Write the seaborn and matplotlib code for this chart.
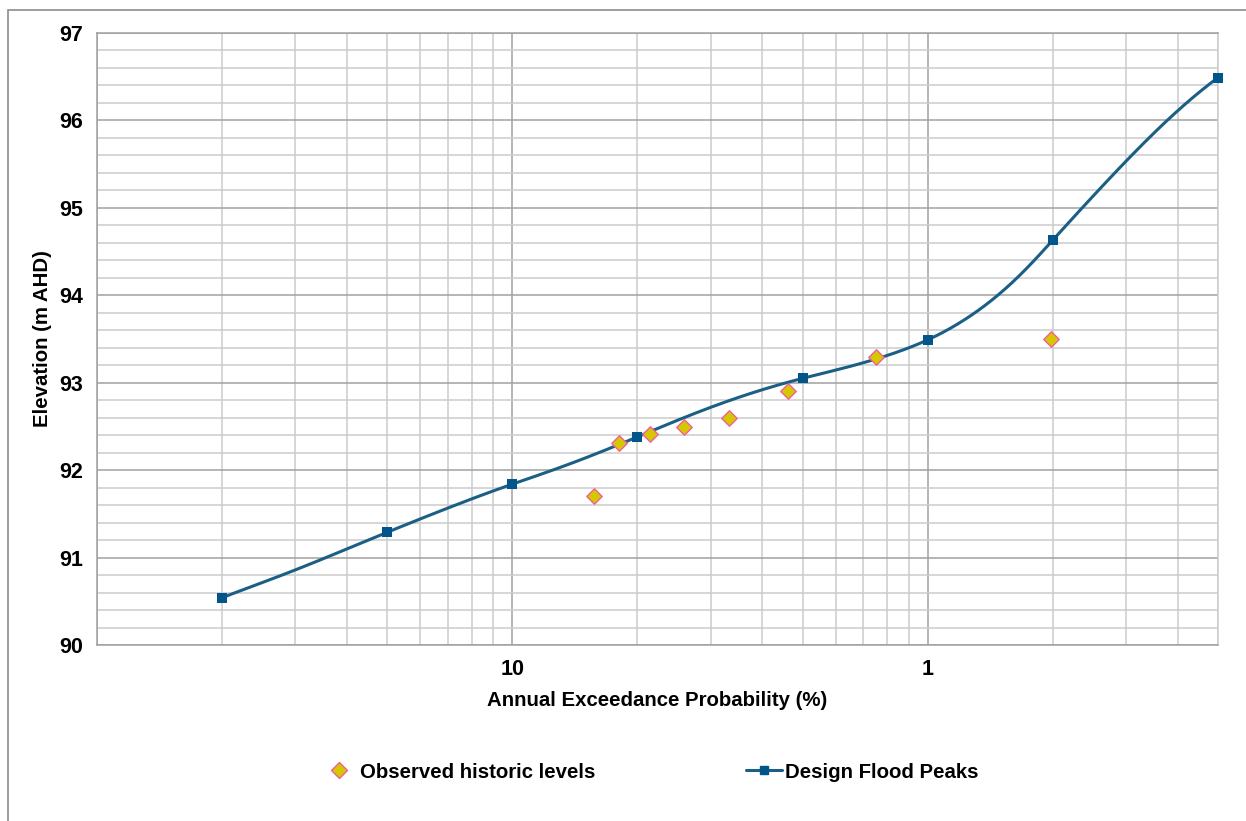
import numpy as np
import pandas as pd
import matplotlib
matplotlib.use('Agg')
import matplotlib.pyplot as plt
import seaborn as sns
from matplotlib.lines import Line2D
from matplotlib.patches import Rectangle
from matplotlib.ticker import FixedLocator, NullFormatter

# design flood peaks (AEP %, elevation m AHD)
design_aep = [50, 20, 10, 5, 2, 1, 0.5, 0.2]
design_level = [90.54, 91.29, 91.84, 92.38, 93.05, 93.49, 94.63, 96.49]

# observed historic levels
obs_aep = [6.35, 5.53, 4.66, 3.86, 3.01, 2.17, 1.33, 0.506]
obs_level = [91.70, 92.31, 92.41, 92.49, 92.60, 92.90, 93.29, 93.50]


def natural_spline(t, y, tt):
    k = len(t)
    h = np.diff(t)
    A = np.zeros((k, k))
    b = np.zeros(k)
    A[0, 0] = A[-1, -1] = 1
    for i in range(1, k - 1):
        A[i, i - 1] = h[i - 1]
        A[i, i] = 2 * (h[i - 1] + h[i])
        A[i, i + 1] = h[i]
        b[i] = 6 * ((y[i + 1] - y[i]) / h[i] - (y[i] - y[i - 1]) / h[i - 1])
    m = np.linalg.solve(A, b)
    idx = np.clip(np.searchsorted(t, tt) - 1, 0, k - 2)
    t0, t1 = t[idx], t[idx + 1]
    hh = t1 - t0
    return (m[idx] * (t1 - tt) ** 3 / (6 * hh) + m[idx + 1] * (tt - t0) ** 3 / (6 * hh)
            + (y[idx] / hh - m[idx] * hh / 6) * (t1 - tt)
            + (y[idx + 1] / hh - m[idx + 1] * hh / 6) * (tt - t0))


def smooth_curve(xs, ys, n=6000):
    # spreadsheet-style smoothing: parametric cubic spline on the raw (unscaled) values
    x = np.asarray(xs, float)
    y = np.asarray(ys, float)
    t = np.concatenate([[0], np.cumsum(np.hypot(np.diff(x), np.diff(y)))])
    tt = np.linspace(0, t[-1], n)
    return natural_spline(t, x, tt), natural_spline(t, y, tt)


sns.set_style('white')
plt.rcParams['font.family'] = ['Liberation Sans', 'DejaVu Sans']
plt.rcParams['text.color'] = 'black'
plt.rcParams['axes.labelcolor'] = 'black'
plt.rcParams['xtick.labelcolor'] = 'black'
plt.rcParams['ytick.labelcolor'] = 'black'

line_col = '#1b5f86'
marker_col = '#00558a'
major_grid = '#a0a0a0'
minor_grid = '#cccccc'

fig = plt.figure(figsize=(12.46, 8.21), dpi=100)
ax = fig.add_axes([97 / 1246, 1 - 645 / 821, (1218 - 97) / 1246, (645 - 33) / 821])

sx, sy = smooth_curve(design_aep, design_level)
curve = pd.DataFrame({'aep': sx, 'level': sy})
design = pd.DataFrame({'aep': design_aep, 'level': design_level})
obs = pd.DataFrame({'aep': obs_aep, 'level': obs_level})

sns.lineplot(data=curve, x='aep', y='level', sort=False, color=line_col, linewidth=2.2, ax=ax, zorder=3)
sns.scatterplot(data=design, x='aep', y='level', marker='s', s=55, color=marker_col,
                edgecolor=marker_col, linewidth=0, ax=ax, zorder=4, clip_on=False)
sns.scatterplot(data=obs, x='aep', y='level', marker='D', s=62, color='#d6c800',
                edgecolor='#f0609a', linewidth=1.0, ax=ax, zorder=5)

ax.set_xscale('log')
ax.set_xlim(100, 0.2)
ax.set_ylim(90, 97)

# grid lines sit at equal return-period steps: 100/k, 10/k, 1/k
ax.xaxis.set_major_locator(FixedLocator([100, 10, 1]))
ax.set_xticklabels(['', '10', '1'])
minor_x = [d / k for d in [100, 10, 1] for k in range(2, 10) if d / k >= 0.2]
ax.xaxis.set_minor_locator(FixedLocator(minor_x))
ax.xaxis.set_minor_formatter(NullFormatter())
ax.yaxis.set_major_locator(FixedLocator(range(90, 98)))
ax.yaxis.set_minor_locator(FixedLocator(np.arange(90, 97.01, 0.2)))

ax.grid(which='major', color=major_grid, linewidth=1.1)
ax.grid(which='minor', color=minor_grid, linewidth=1.1)
ax.set_axisbelow(True)
for sp in ax.spines.values():
    sp.set_color(major_grid)
    sp.set_linewidth(1.1)
ax.spines['right'].set_color(minor_grid)
ax.tick_params(axis='both', which='major', direction='out', length=5, width=1, color=major_grid,
               labelsize=15.5, pad=5, labelcolor='black')
ax.tick_params(axis='both', which='minor', length=0)
for lab in ax.get_xticklabels() + ax.get_yticklabels():
    lab.set_fontweight('bold')

ax.set_xlabel('Annual Exceedance Probability (%)', fontsize=14.7, fontweight='bold', labelpad=8)
ax.set_ylabel('Elevation (m AHD)', fontsize=14.7, fontweight='bold', labelpad=5)

handles = [
    Line2D([], [], linestyle='none', marker='D', markersize=8, markerfacecolor='#d6c800',
           markeredgecolor='#f0609a', markeredgewidth=1.0),
    Line2D([], [], color=line_col, linewidth=2.2, marker='s', markersize=6,
           markerfacecolor=marker_col, markeredgecolor=marker_col),
]
fig.legend(handles, ['Observed historic levels', 'Design Flood Peaks'], loc='center',
           bbox_to_anchor=(650 / 1246, 1 - 772 / 821), ncol=2, frameon=False, columnspacing=7.4,
           handlelength=1.75, handletextpad=0.15, borderpad=0, borderaxespad=0,
           prop={'weight': 'bold', 'size': 14.7}, labelcolor='black')

fig.patches.append(Rectangle((8 / 1246, -0.05), 1.1, 1.05 - 10 / 821, transform=fig.transFigure,
                             fill=False, edgecolor='#8c8c8c', linewidth=1.2))

fig.savefig('out.png', dpi=100)
